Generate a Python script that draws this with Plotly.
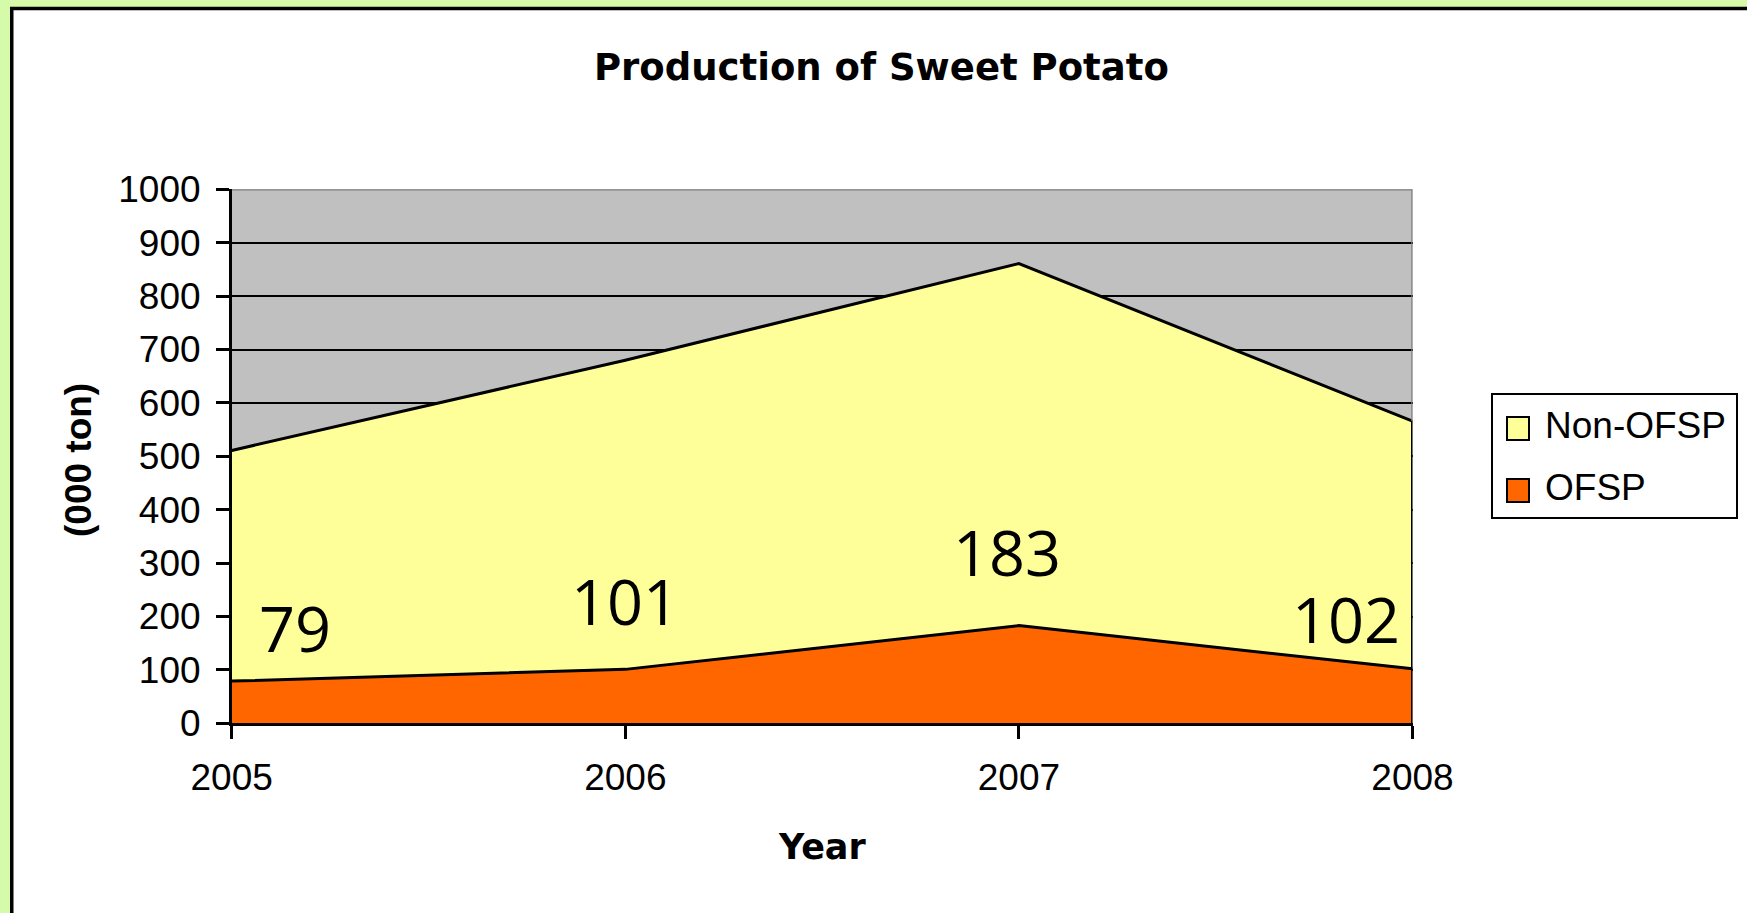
import plotly.graph_objects as go

# ---- data ----
years = [2005, 2006, 2007, 2008]
year_labels = ["2005", "2006", "2007", "2008"]
ofsp = [79, 101, 183, 102]
non_ofsp = [432, 579, 678, 464]
label_x = [2005.16, 2006.0, 2006.97, 2007.83]
label_y = [180, 230, 322, 197]
y_ticks = list(range(0, 1001, 100))
y_tick_labels = [str(v) for v in y_ticks]

totals = [a + b for a, b in zip(ofsp, non_ofsp)]

W, H = 1747, 913
def px(x):
    return x / W
def py(y):
    return 1 - y / H

plot_l, plot_r, plot_t, plot_b = 231.7, 1412.5, 189.3, 723.3

GREEN = "#D5FBAA"
TICKFONT = dict(family="Liberation Sans, Arial, sans-serif", size=37, color="black")

fig = go.Figure()
fig.add_trace(go.Scatter(x=years, y=ofsp, name="OFSP", stackgroup="one", mode="lines",
                         line=dict(color="black", width=3), fillcolor="#FF6600",
                         showlegend=False, hoverinfo="skip"))
fig.add_trace(go.Scatter(x=years, y=non_ofsp, name="Non-OFSP", stackgroup="one", mode="lines",
                         line=dict(color="black", width=3), fillcolor="#FFFF99",
                         showlegend=False, hoverinfo="skip"))

shapes = [
    # green surround (top and left)
    dict(type="rect", xref="paper", yref="paper", x0=0, x1=1, y0=py(7), y1=1,
         fillcolor=GREEN, line=dict(width=0), layer="below"),
    dict(type="rect", xref="paper", yref="paper", x0=0, x1=px(10), y0=0, y1=1,
         fillcolor=GREEN, line=dict(width=0), layer="below"),
    # black frame
    dict(type="rect", xref="paper", yref="paper", x0=px(11.75), x1=px(1770), y0=py(940), y1=py(8.5),
         fillcolor="rgba(0,0,0,0)", line=dict(color="black", width=3.5), layer="above"),
    # plot area border top/right (gray)
    dict(type="line", xref="x", yref="y", x0=years[0], x1=years[-1], y0=y_ticks[-1], y1=y_ticks[-1],
         line=dict(color="#808080", width=2.5), layer="above"),
    dict(type="line", xref="x", yref="y", x0=years[-1], x1=years[-1], y0=totals[-1], y1=y_ticks[-1],
         line=dict(color="#808080", width=2.5), layer="above"),
    # black right edge of the areas
    dict(type="line", xref="x", yref="y", x0=years[-1], x1=years[-1], y0=0, y1=totals[-1],
         line=dict(color="black", width=3), layer="above"),
    # legend box
    dict(type="rect", xref="paper", yref="paper", x0=px(1492), x1=px(1737), y0=py(518), y1=py(394),
         fillcolor="white", line=dict(color="black", width=2)),
    dict(type="rect", xref="paper", yref="paper", x0=px(1507), x1=px(1529), y0=py(440), y1=py(417),
         fillcolor="#FFFF99", line=dict(color="black", width=2)),
    dict(type="rect", xref="paper", yref="paper", x0=px(1507), x1=px(1529), y0=py(502), y1=py(479),
         fillcolor="#FF6600", line=dict(color="black", width=2)),
]

annotations = [
    dict(text="<b>Production of Sweet Potato</b>", x=px(881.5), y=py(68), xref="paper", yref="paper",
         showarrow=False, xanchor="center", yanchor="middle",
         font=dict(family="DejaVu Sans", size=37, color="black")),
    dict(text="<b>Year</b>", x=px(822), y=py(847), xref="paper", yref="paper",
         showarrow=False, xanchor="center", yanchor="middle",
         font=dict(family="DejaVu Sans", size=35, color="black")),
    dict(text="<b>(000 ton)</b>", x=px(78), y=py(460), xref="paper", yref="paper",
         showarrow=False, xanchor="center", yanchor="middle", textangle=-90,
         font=dict(family="Liberation Sans, Arial", size=37, color="black")),
    dict(text="Non-OFSP", x=px(1543), y=py(426), xref="paper", yref="paper",
         showarrow=False, xanchor="left", yanchor="middle", font=TICKFONT),
    dict(text="OFSP", x=px(1543), y=py(488), xref="paper", yref="paper",
         showarrow=False, xanchor="left", yanchor="middle", font=TICKFONT),
]
for xv, yv, v in zip(label_x, label_y, ofsp):
    annotations.append(dict(text=str(v), x=xv, y=yv, xref="x", yref="y", showarrow=False,
                            xanchor="center", yanchor="middle",
                            font=dict(family="Open Sans", size=63, color="black")))

fig.update_layout(
    template="none",
    width=W, height=H,
    margin=dict(l=0, r=0, t=0, b=0, pad=0, autoexpand=False),
    paper_bgcolor="white",
    plot_bgcolor="#C0C0C0",
    showlegend=False,
    shapes=shapes,
    annotations=annotations,
    xaxis=dict(domain=[px(plot_l), px(plot_r)], range=[years[0], years[-1]],
               tickmode="array", tickvals=years, ticktext=year_labels,
               ticks="outside", ticklen=13, tickwidth=2.5, tickcolor="black",
               showline=True, linecolor="black", linewidth=2.5,
               showgrid=False, zeroline=False, tickfont=TICKFONT,
               ticklabelstandoff=7, fixedrange=True, automargin=False),
    yaxis=dict(domain=[py(plot_b), py(plot_t)], range=[0, 1000],
               tickmode="array", tickvals=y_ticks, ticktext=y_tick_labels,
               ticks="outside", ticklen=13, tickwidth=2.5, tickcolor="black",
               showline=True, linecolor="black", linewidth=2.5,
               showgrid=True, gridcolor="black", gridwidth=2,
               zeroline=False, tickfont=TICKFONT,
               ticklabelstandoff=8, fixedrange=True, automargin=False),
)

fig.write_html("out.html", config={"displayModeBar": False},
               post_script="document.documentElement.style.margin='0';document.body.style.margin='0';"
                           "document.body.style.overflow='hidden';")
